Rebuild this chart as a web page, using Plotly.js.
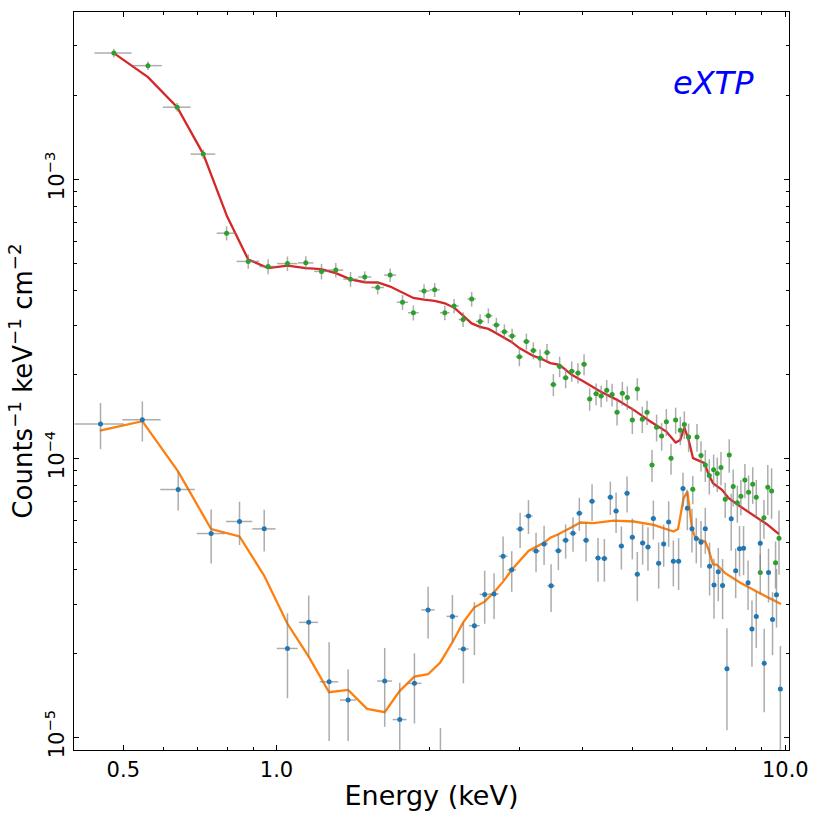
<!DOCTYPE html>
<html>
<head>
<meta charset="utf-8">
<script src="https://cdn.plot.ly/plotly-3.0.1.min.js"></script>
<style>
  html, body { margin: 0; padding: 0; background: #fff; }
  #chart { width: 822px; height: 823px; }
</style>
</head>
<body>
<div id="chart"></div>
<script>
// source + background spectrum (green points)
var srcE = [0.479, 0.559, 0.638, 0.718, 0.798, 0.880, 0.963, 1.051, 1.142, 1.226, 1.308, 1.398,
  1.491, 1.581, 1.673, 1.769, 1.858, 1.950, 2.046, 2.142, 2.234, 2.327, 2.419, 2.513, 2.609, 2.705,
  2.805, 2.905, 3.002, 3.099, 3.198, 3.297, 3.402, 3.501, 3.602, 3.701, 3.804, 3.913, 4.023, 4.126,
  4.248, 4.346, 4.457, 4.567, 4.671, 4.784, 4.893, 5.005, 5.119, 5.237, 5.349, 5.471, 5.586, 5.715,
  5.838, 5.963, 6.089, 6.219, 6.333, 6.457, 6.58, 6.707, 6.829, 6.963, 7.091, 7.231, 7.35, 7.475,
  7.62, 7.76, 7.90, 8.05, 8.18, 8.33, 8.47, 8.63, 8.77, 8.93, 9.08, 9.24, 9.40, 9.57, 9.72];
var srcF = [2.83e-3, 2.55e-3, 1.81e-3, 1.229e-3, 6.40e-4, 5.07e-4, 4.86e-4, 4.98e-4, 5.01e-4, 4.67e-4, 4.72e-4, 4.38e-4,
  4.46e-4, 4.09e-4, 4.53e-4, 3.62e-4, 3.32e-4, 3.97e-4, 4.01e-4, 3.32e-4, 3.51e-4, 3.14e-4, 3.72e-4, 3.09e-4, 3.24e-4, 3.00e-4,
  2.84e-4, 2.74e-4, 2.31e-4, 2.62e-4, 2.43e-4, 2.28e-4, 2.39e-4, 1.835e-4, 2.13e-4, 1.94e-4, 2.05e-4, 2.02e-4, 2.17e-4, 1.63e-4,
  1.70e-4, 1.67e-4, 1.75e-4, 1.69e-4, 1.46e-4, 1.71e-4, 1.65e-4, 1.37e-4, 1.77e-4, 1.38e-4, 1.46e-4, 9.46e-5, 1.29e-4, 1.20e-4,
  1.35e-4, 1.00e-4, 1.37e-4, 1.26e-4, 1.32e-4, 1.19e-4, 7.74e-5, 1.19e-4, 1.022e-4, 9.46e-5, 8.66e-5, 9.08e-5, 8.81e-5, 9.25e-5,
  7.13e-5, 1.027e-4, 7.91e-5, 6.92e-5, 7.30e-5, 8.36e-5, 7.55e-5, 8.07e-5, 7.25e-5, 3.89e-5, 6.11e-5, 7.86e-5, 7.63e-5, 4.22e-5, 5.16e-5];
var srcErr = [1.0e-4, 0.9e-4, 0.65e-4, 0.45e-4, 0.37e-4, 0.30e-4, 0.30e-4, 0.30e-4, 0.28e-4, 0.30e-4, 0.28e-4, 0.27e-4,
  2.1e-5, 2.25e-5, 2.5e-5, 2.2e-5, 2.05e-5, 2.3e-5, 2.3e-5, 2.0e-5, 2.07e-5, 1.9e-5, 2.25e-5, 1.9e-5, 2.0e-5, 1.86e-5,
  1.76e-5, 1.7e-5, 1.75e-5, 1.73e-5, 1.7e-5, 1.72e-5, 1.75e-5, 1.67e-5, 1.8e-5, 1.6e-5, 1.7e-5, 1.67e-5, 1.88e-5, 1.52e-5,
  1.52e-5, 1.47e-5, 1.56e-5, 1.58e-5, 1.52e-5, 1.67e-5, 1.59e-5, 1.5e-5, 1.63e-5, 1.5e-5, 1.46e-5, 1.24e-5, 1.42e-5, 1.35e-5,
  1.49e-5, 1.27e-5, 1.47e-5, 1.47e-5, 1.5e-5, 1.39e-5, 0.9e-5, 1.35e-5, 1.27e-5, 1.24e-5, 1.25e-5, 1.22e-5, 1.24e-5, 1.27e-5,
  1.03e-5, 1.41e-5, 1.2e-5, 1.05e-5, 1.05e-5, 1.17e-5, 1.11e-5, 1.21e-5, 1.1e-5, 0.64e-5, 0.97e-5, 1.6e-5, 1.57e-5, 0.81e-5, 1.34e-5];
var srcHalfW = [0.040, 0.036, 0.040, 0.040, 0.035, 0.045, 0.037, 0.048, 0.040, 0.040, 0.045, 0.045,
  0.045, 0.045, 0.045, 0.045, 0.045, 0.047, 0.047, 0.047, 0.046, 0.046, 0.046, 0.047, 0.048, 0.048,
  0.05, 0.05, 0.05, 0.05, 0.05, 0.05, 0.052, 0.05, 0.05, 0.052, 0.055, 0.055, 0.055, 0.052,
  0.055, 0.055, 0.055, 0.055, 0.056, 0.056, 0.057, 0.058, 0.058, 0.06, 0.06, 0.06, 0.062, 0.062,
  0.063, 0.063, 0.063, 0.064, 0.065, 0.065, 0.065, 0.066, 0.067, 0.068, 0.068, 0.069, 0.07, 0.07,
  0.07, 0.07, 0.071, 0.072, 0.073, 0.074, 0.075, 0.076, 0.077, 0.078, 0.078, 0.079, 0.08, 0.08, 0.08];

// background spectrum (blue points); null = bin not drawn on a log axis
var bkgE = [0.451, 0.545, 0.641, 0.744, 0.846, 0.946, 1.051, 1.157, 1.269, 1.383, 1.507, 1.632, 1.747,
  1.867, 1.986, 2.100, 2.217, 2.330, 2.449, 2.566, 2.677, 2.789, 2.900, 3.012, 3.128, 3.237, 3.357,
  3.465, 3.581, 3.701, 3.827, 3.938, 4.059, 4.171, 4.285, 4.410, 4.531, 4.650, 4.763, 4.887, 5.005,
  5.119, 5.244, 5.372, 5.505, 5.638, 5.768, 5.900, 6.026, 6.171, 6.295, 6.419, 6.556, 6.685, 6.829,
  6.963, 7.100, 7.243, 7.385, 7.530, 7.68, 7.83, 7.99, 8.13, 8.28, 8.45, 8.60, 8.77, 8.93, 9.09,
  9.27, 9.44, 9.61, 9.78];
var bkgF = [1.327e-4, 1.372e-4, 7.72e-5, 5.37e-5, 5.93e-5, 5.58e-5, 2.08e-5, 2.58e-5, 1.58e-5, 1.36e-5, null, 1.59e-5, 1.157e-5,
  1.56e-5, 2.86e-5, 4.5e-6, 2.71e-5, 2.07e-5, 2.51e-5, 3.25e-5, 3.26e-5, 4.45e-5, 3.98e-5, 5.57e-5, 6.21e-5, 4.65e-5, 4.93e-5,
  3.49e-5, 4.66e-5, 5.08e-5, 5.38e-5, 6.35e-5, 5.08e-5, 7.01e-5, 4.39e-5, 4.37e-5, 7.25e-5, 6.46e-5, 4.84e-5, 7.49e-5, 5.21e-5,
  3.84e-5, 4.97e-5, 4.80e-5, 6.08e-5, 4.20e-5, 4.93e-5, 5.91e-5, 4.27e-5, 4.27e-5, 7.78e-5, 6.62e-5, 5.59e-5, 5.15e-5, 5.00e-5,
  5.59e-5, 4.10e-5, 3.51e-5, 3.92e-5, 3.50e-5, 1.76e-5, 6.06e-5, 3.95e-5, 4.74e-5, 4.76e-5, 3.58e-5, 2.44e-5, 2.71e-5, 4.96e-5, 1.84e-5,
  3.89e-5, 2.64e-5, 3.24e-5, 1.49e-5];
var bkgErr = [2.5e-5, 2.25e-5, 1.23e-5, 1.18e-5, 1.05e-5, 0.95e-5, 0.70e-5, 0.64e-5, 0.61e-5, 0.39e-5, null, 0.5e-5, 0.41e-5,
  0.44e-5, 0.6e-5, 0.63e-5, 0.52e-5, 0.51e-5, 0.54e-5, 0.7e-5, 0.61e-5, 0.79e-5, 0.66e-5, 0.8e-5, 0.86e-5, 0.75e-5, 0.79e-5,
  0.68e-5, 0.69e-5, 0.71e-5, 0.76e-5, 0.86e-5, 0.82e-5, 1.06e-5, 0.78e-5, 0.76e-5, 0.99e-5, 1.07e-5, 0.85e-5, 1.1e-5, 0.87e-5,
  0.77e-5, 0.82e-5, 0.85e-5, 0.97e-5, 0.79e-5, 0.85e-5, 1.1e-5, 0.8e-5, 0.9e-5, 1.08e-5, 1.1e-5, 1.0e-5, 0.95e-5, 0.95e-5,
  1.05e-5, 0.88e-5, 0.85e-5, 0.85e-5, 0.85e-5, 0.7e-5, 1.4e-5, 0.8e-5, 0.97e-5, 0.95e-5, 0.72e-5, 0.65e-5, 0.62e-5, 1.1e-5, 0.61e-5,
  0.85e-5, 0.67e-5, 0.77e-5, 0.63e-5];
var bkgHalfW = [0.05, 0.047, 0.05, 0.047, 0.05, 0.05, 0.05, 0.05, 0.053, 0.05, 0.055, 0.055, 0.055,
  0.06, 0.06, 0.057, 0.058, 0.056, 0.06, 0.058, 0.056, 0.056, 0.056, 0.056, 0.058, 0.057, 0.058,
  0.058, 0.06, 0.06, 0.06, 0.058, 0.058, 0.058, 0.06, 0.062, 0.06, 0.06, 0.06, 0.062, 0.06,
  0.06, 0.064, 0.066, 0.066, 0.066, 0.066, 0.065, 0.065, 0.07, 0.062, 0.062, 0.068, 0.068, 0.07,
  0.068, 0.07, 0.072, 0.072, 0.074, 0.075, 0.076, 0.077, 0.075, 0.078, 0.08, 0.08, 0.08, 0.08, 0.082,
  0.085, 0.085, 0.085, 0.085];

// folded models
var srcModelE = [0.479, 0.559, 0.638, 0.718, 0.800, 0.880, 0.963, 1.051, 1.142, 1.224, 1.308, 1.398, 1.491,
  1.581, 1.673, 1.769, 1.858, 1.950, 2.046, 2.142, 2.234, 2.327, 2.419, 2.513, 2.609, 2.705, 2.805, 2.905,
  3.002, 3.099, 3.198, 3.297, 3.454, 3.602, 3.804, 4.023, 4.331, 4.671, 5.035, 5.43, 5.838, 6.089, 6.219,
  6.333, 6.457, 6.587, 6.94, 7.07, 7.21, 7.51, 7.74, 8.16, 8.54, 9.20, 9.72];
var srcModelF = [2.829e-3, 2.32e-3, 1.811e-3, 1.229e-3, 7.34e-4, 5.15e-4, 4.80e-4, 4.90e-4, 4.80e-4, 4.76e-4, 4.60e-4, 4.375e-4, 4.27e-4,
  4.26e-4, 4.12e-4, 3.92e-4, 3.75e-4, 3.70e-4, 3.66e-4, 3.59e-4, 3.46e-4, 3.24e-4, 3.04e-4, 2.955e-4, 2.906e-4, 2.805e-4, 2.69e-4, 2.60e-4,
  2.48e-4, 2.40e-4, 2.325e-4, 2.28e-4, 2.19e-4, 2.16e-4, 1.99e-4, 1.88e-4, 1.733e-4, 1.618e-4, 1.49e-4, 1.353e-4, 1.246e-4, 1.137e-4, 1.163e-4,
  1.288e-4, 1.163e-4, 1.0e-4, 9.60e-5, 8.71e-5, 8.14e-5, 7.70e-5, 7.19e-5, 6.71e-5, 6.35e-5, 5.80e-5, 5.34e-5];
var bkgModelE = [0.4496, 0.545, 0.641, 0.744, 0.846, 0.946, 1.051, 1.157, 1.269, 1.383, 1.507, 1.632, 1.747,
  1.867, 1.986, 2.100, 2.217, 2.330, 2.449, 2.566, 2.677, 2.789, 2.900, 3.012, 3.128, 3.237, 3.357, 3.454,
  3.581, 3.827, 3.956, 4.202, 4.599, 5.035, 5.512, 6.033, 6.155, 6.313, 6.420, 6.556, 6.656, 6.963, 7.07,
  7.21, 7.34, 7.62, 8.16, 8.80, 9.81];
var bkgModelF = [1.256e-4, 1.357e-4, 8.95e-5, 5.57e-5, 5.24e-5, 3.79e-5, 2.55e-5, 1.945e-5, 1.45e-5, 1.477e-5, 1.263e-5, 1.229e-5, 1.466e-5,
  1.649e-5, 1.682e-5, 1.857e-5, 2.19e-5, 2.584e-5, 2.92e-5, 3.06e-5, 3.31e-5, 3.61e-5, 3.98e-5, 4.30e-5, 4.65e-5, 4.81e-5, 4.97e-5, 5.19e-5,
  5.34e-5, 5.69e-5, 5.88e-5, 5.85e-5, 5.97e-5, 5.93e-5, 5.77e-5, 5.46e-5, 5.57e-5, 7.19e-5, 7.59e-5, 5.61e-5, 5.17e-5, 5.02e-5, 4.69e-5,
  4.17e-5, 4.15e-5, 3.87e-5, 3.58e-5, 3.32e-5, 3.0e-5];

var xTickVals = [0.5, 1, 10];
var xTickText = ['0.5', '1.0', '10.0'];
var xMinorVals = [0.4, 0.6, 0.7, 0.8, 0.9, 2, 3, 4, 5, 6, 7, 8, 9];
var yTickVals = [1e-5, 1e-4, 1e-3];
var yTickText = ['10<sup>\u22125</sup>', '10<sup>\u22124</sup>', '10<sup>\u22123</sup>'];
var yMinorVals = [2e-5, 3e-5, 4e-5, 5e-5, 6e-5, 7e-5, 8e-5, 9e-5,
  2e-4, 3e-4, 4e-4, 5e-4, 6e-4, 7e-4, 8e-4, 9e-4, 2e-3, 3e-3];

var FONT = 'DejaVu Sans, sans-serif';
var errColor = 'rgba(128,128,128,0.65)';

function dataTrace(x, y, err, halfw, color) {
    return {
        x: x,
        y: y,
        mode: 'markers',
        type: 'scatter',
        marker: { color: color, size: 5 },
        error_y: { type: 'data', array: err, color: errColor, thickness: 1.5, width: 0 },
        error_x: { type: 'data', array: halfw, color: errColor, thickness: 1.5, width: 0 },
        hoverinfo: 'x+y',
    };
}

var data = [
    {
        x: srcModelE, y: srcModelF, mode: 'lines', type: 'scatter',
        line: { color: '#d62728', width: 2.3 },
    },
    {
        x: bkgModelE, y: bkgModelF, mode: 'lines', type: 'scatter',
        line: { color: '#ff7f0e', width: 2.3 },
    },
    dataTrace(srcE, srcF, srcErr, srcHalfW, '#2ca02c'),
    dataTrace(bkgE, bkgF, bkgErr, bkgHalfW, '#1f77b4'),
];

var axisCommon = {
    type: 'log',
    showgrid: false,
    zeroline: false,
    showline: true,
    linecolor: '#000',
    linewidth: 1.3,
    mirror: 'ticks',
    ticks: 'inside',
    ticklen: 5,
    tickwidth: 1.1,
    tickcolor: '#000',
    tickmode: 'array',
    tickfont: { family: FONT, size: 21, color: '#000' },
};

var layout = {
    width: 822,
    height: 823,
    paper_bgcolor: '#fff',
    plot_bgcolor: '#fff',
    showlegend: false,
    margin: { l: 74, r: 33, t: 12, b: 73 },
    xaxis: Object.assign({}, axisCommon, {
        range: [Math.log10(0.4), Math.log10(10.17)],
        tickvals: xTickVals,
        ticktext: xTickText,
        minor: { tickmode: 'array', tickvals: xMinorVals, ticks: 'inside', ticklen: 3, tickwidth: 1, tickcolor: '#000' },
        title: { text: 'Energy (keV)', font: { family: FONT, size: 27, color: '#000' }, standoff: 5 },
    }),
    yaxis: Object.assign({}, axisCommon, {
        range: [Math.log10(9.0e-6), Math.log10(3.97e-3)],
        tickvals: yTickVals,
        ticktext: yTickText,
        tickangle: -90,
        minor: { tickmode: 'array', tickvals: yMinorVals, ticks: 'inside', ticklen: 3, tickwidth: 1, tickcolor: '#000' },
        title: { text: 'Counts<sup>\u22121</sup> keV<sup>\u22121</sup> cm<sup>\u22122</sup>', font: { family: FONT, size: 26, color: '#000' }, standoff: 1 },
    }),
    annotations: [{
        text: '<i>eXTP</i>',
        xref: 'paper', yref: 'paper',
        x: 0.894, y: 0.904,
        xanchor: 'center', yanchor: 'middle',
        showarrow: false,
        font: { family: FONT, size: 32, color: '#0000ff' },
    }],
};

Plotly.newPlot(document.getElementById('chart'), data, layout, { staticPlot: true });
</script>
</body>
</html>
